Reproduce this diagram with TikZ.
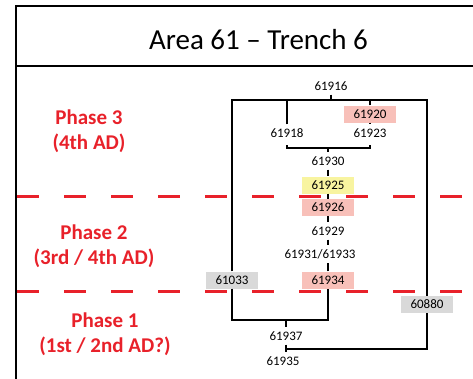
\documentclass[tikz,border=0pt]{standalone}
\usepackage{fontspec}
\setmainfont{Carlito}
\definecolor{phasered}{HTML}{E8212A}
\definecolor{unitpink}{HTML}{F8C0B9}
\definecolor{unityellow}{HTML}{F8F4A0}
\definecolor{unitgrey}{HTML}{D9D9D9}

\begin{document}
\begin{tikzpicture}[x=1pt, y=-1pt,
    unit/.style={font=\fontsize{13}{15}\selectfont, inner sep=0pt, minimum width=52pt, minimum height=17pt},
    pinkunit/.style={unit, fill=unitpink},
    yellowunit/.style={unit, fill=unityellow},
    greyunit/.style={unit, fill=unitgrey},
    link/.style={line width=1.1pt},
    phase/.style={font=\fontsize{21}{25}\selectfont\bfseries, text=phasered, align=center},
    divider/.style={phasered, line width=3pt, dash pattern=on 22pt off 25pt},
    frame/.style={line width=2.5pt}]
    \useasboundingbox (0,0) rectangle (473,378);

    % Frame and title
    \draw[frame] (474,6) -- (16,6) -- (16,379);
    \draw[frame] (16,66) -- (474,66);
    \node[font=\fontsize{29}{33}\selectfont, anchor=base] (title) at (258.5,49) {Area 61 -- Trench 6};

    % Phase dividers
    \draw[divider] (17,196) -- (474,196);
    \draw[divider] (17,291) -- (474,291);

    % Labels
    \node[phase] (phase3) at (89,131) {Phase 3\\(4th AD)};
    \node[phase] (phase2) at (94,246.5) {Phase 2\\(3rd / 4th AD)};
    \node[phase] (phase1) at (105,334.5) {Phase 1\\(1st / 2nd AD?)};

    % Draw nodes
    \node[unit] (n61916) at (331,86) {61916};
    \node[pinkunit] (n61920) at (370,114) {61920};
    \node[unit] (n61918) at (287,133) {61918};
    \node[unit] (n61923) at (370,133) {61923};
    \node[unit] (n61930) at (328,161) {61930};
    \node[yellowunit] (n61925) at (328,185) {61925};
    \node[pinkunit] (n61926) at (328,207.5) {61926};
    \node[unit] (n61929) at (328,231) {61929};
    \node[unit] (n61931) at (320,254) {61931/61933};
    \node[pinkunit] (n61934) at (328,280) {61934};
    \node[greyunit] (n61033) at (232,280) {61033};
    \node[greyunit] (n60880) at (427,304.5) {60880};
    \node[unit] (n61937) at (286,336) {61937};
    \node[unit] (n61935) at (283,361) {61935};

    % Draw connections
    \coordinate (tl) at (232,100);
    \coordinate (tr) at (427,100);
    \coordinate (mid) at (328,148);
    \coordinate (low) at (286,320);
    \coordinate (tee) at (286,349);
    \draw[link] (n61033) -- (tl) -- (tr) -- (n60880);
    \draw[link] (n61916) -- (n61916 |- tl);
    \draw[link] (n61918) -- (n61918 |- tl);
    \draw[link] (n61920) -- (n61920 |- tl);
    \draw[link] (n61920) -- (n61923);
    \draw[link] ([yshift=-3.5pt]n61918.south) |- (mid) -| ([yshift=-3.5pt]n61923.south);
    \draw[link] (mid) -- (n61930);
    \draw[link] (n61930) -- (n61925);
    \draw[link] (n61925) -- (n61926);
    \draw[link] (n61926) -- (n61929);
    \draw[link] (n61929) -- (n61929 |- n61931.north);
    \draw[link] (n61934) -- (n61934 |- n61931.south);
    \draw[link] (n61033) |- (n61934.south |- low) -- (n61934);
    \draw[link] (low) -- (n61937);
    \draw[link] (n61937.south) -- (n61937.south |- n61935.north);
    \draw[link] (tee) -| (n60880);
\end{tikzpicture}
\end{document}
